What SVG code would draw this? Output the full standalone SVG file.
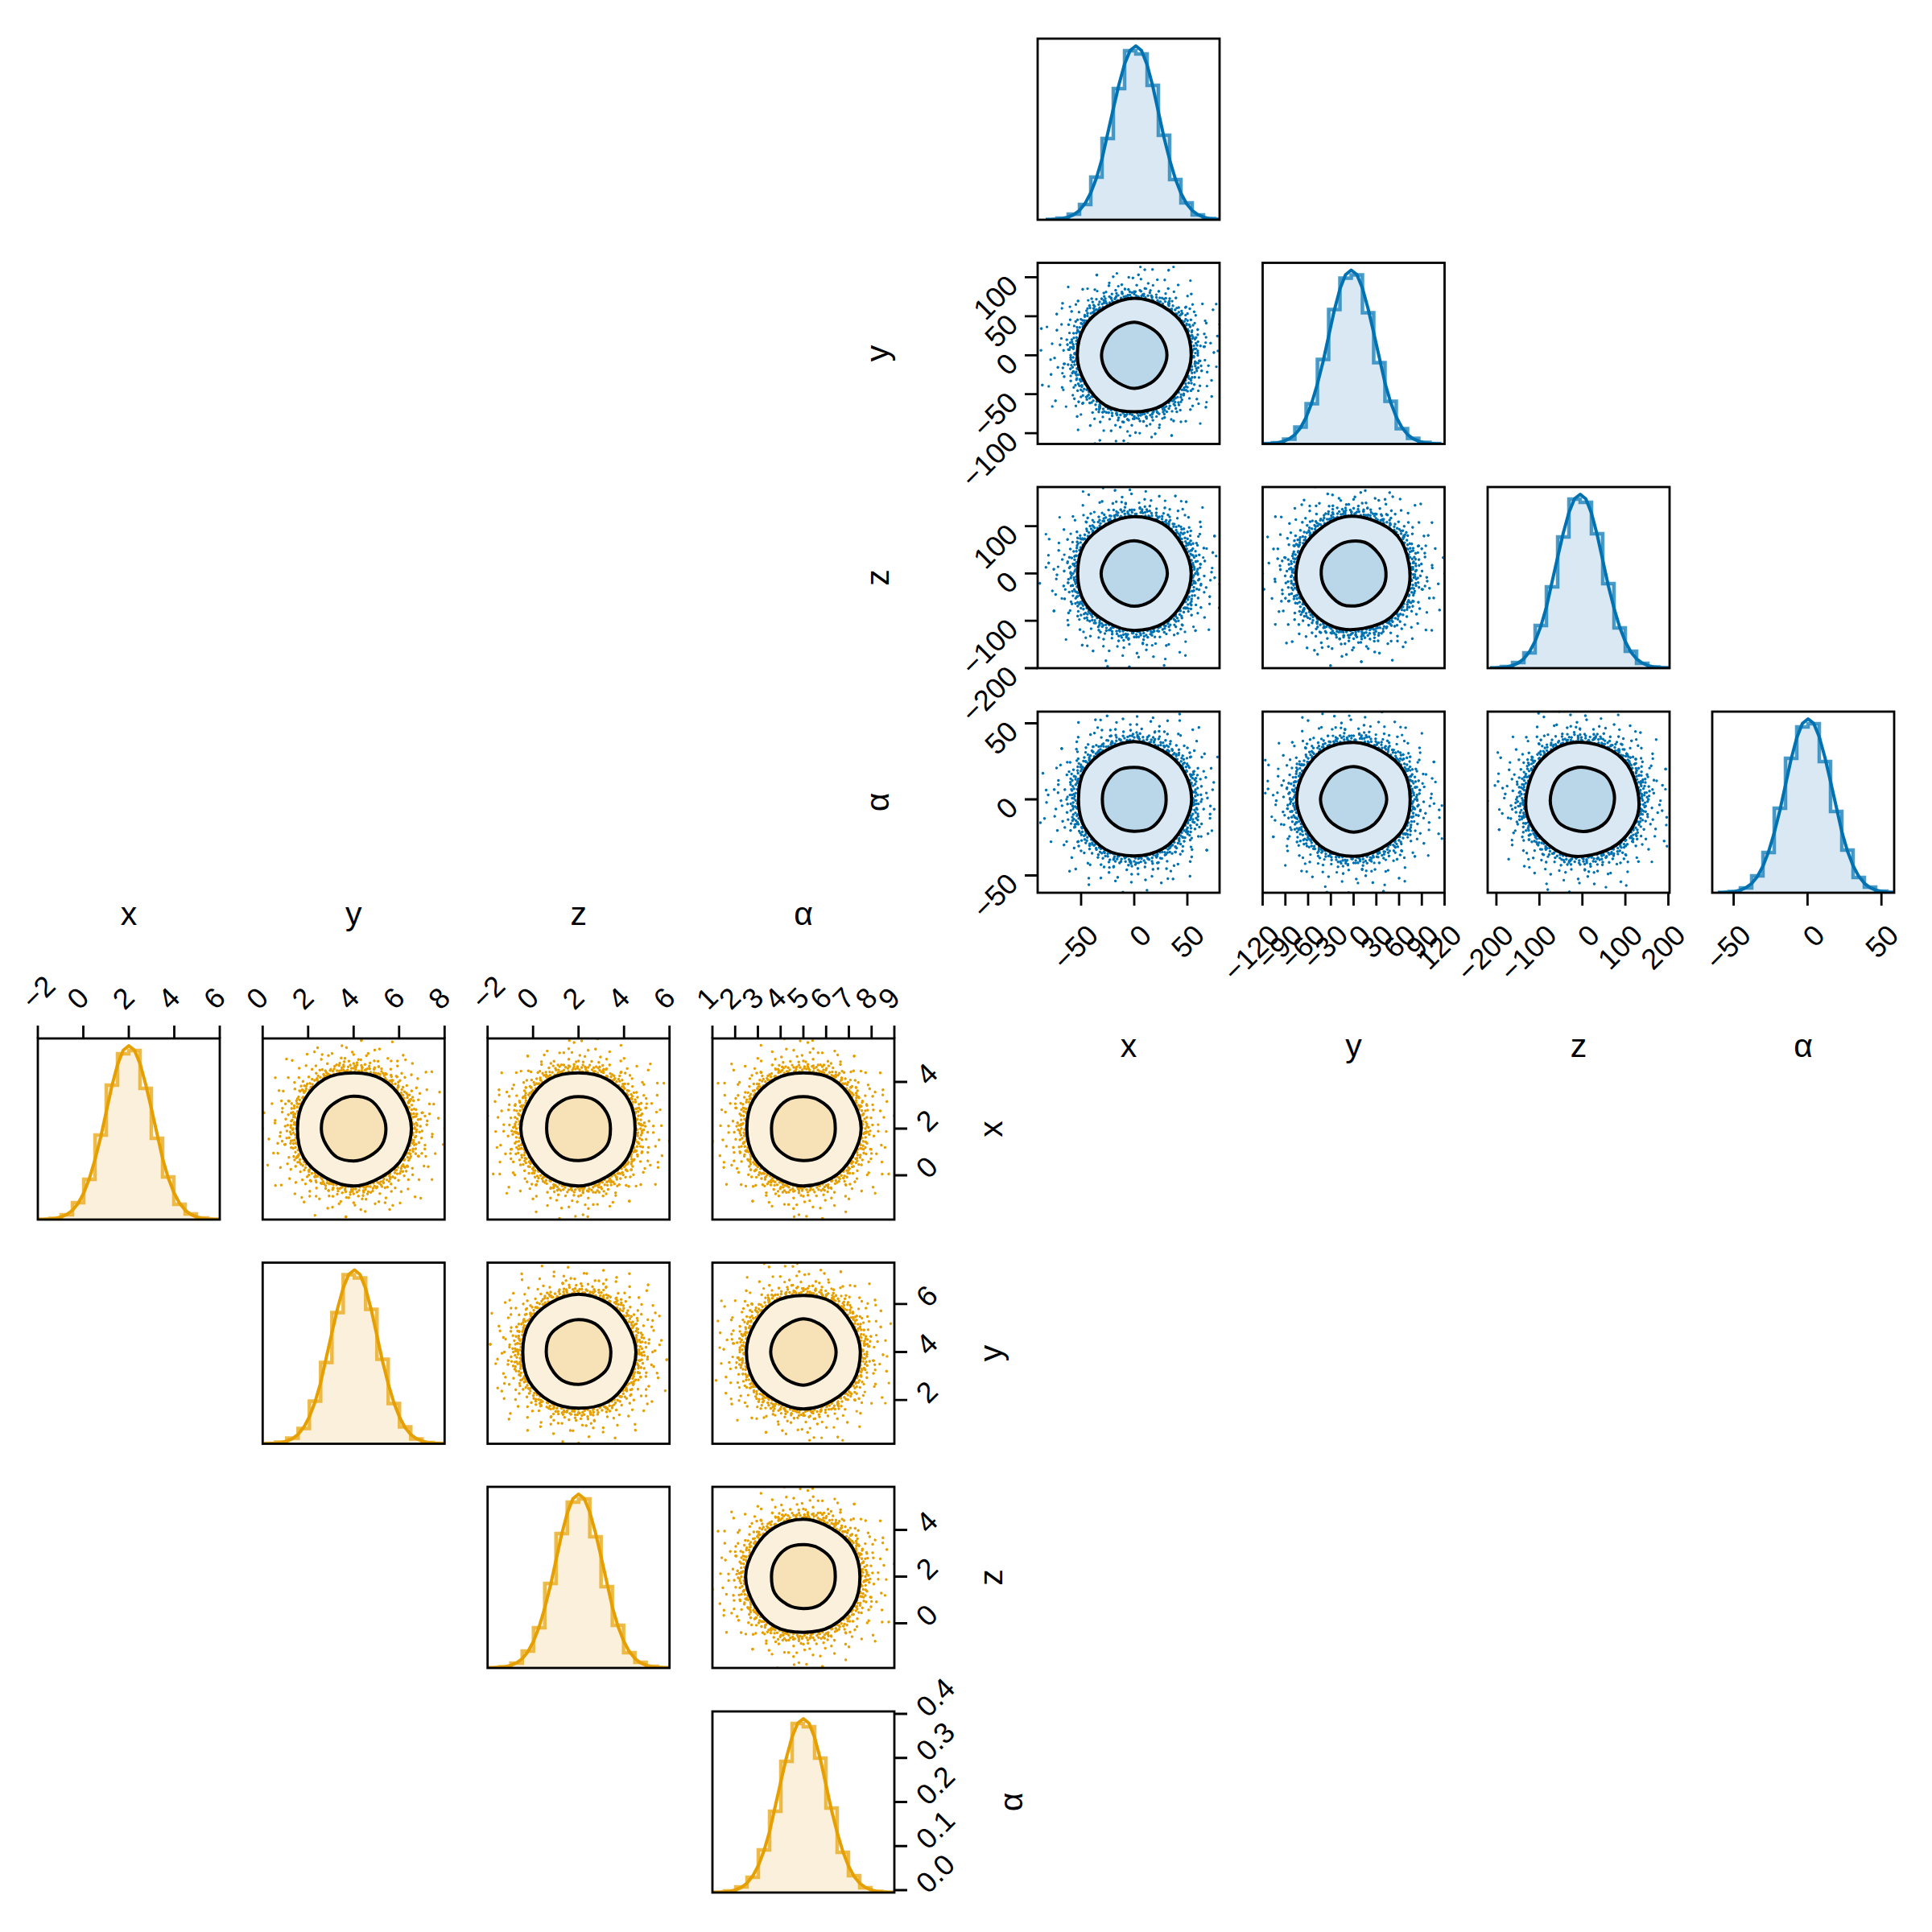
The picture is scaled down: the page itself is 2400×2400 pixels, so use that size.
<svg xmlns="http://www.w3.org/2000/svg" xmlns:xlink="http://www.w3.org/1999/xlink" width="2400" height="2400" viewBox="0 0 2400 2400">
<style>
.frame{fill:none;stroke:#000;stroke-width:2.8}
.tk{fill:none;stroke:#000;stroke-width:2.8}
.tl{font-family:"Liberation Sans",Arial,sans-serif;font-size:36px;fill:#000}
.al{font-family:"Liberation Sans",Arial,sans-serif;font-size:41px;fill:#000;text-anchor:middle}
.e{text-anchor:end}
.bd{stroke:#0072B2}
.yd{stroke:#E69F00}
.cl{stroke:#000;stroke-width:4;stroke-linejoin:round}
.bf1{fill:#D9E8F2}
.bf2{fill:#B9D7E8}
.yf1{fill:#FBF0DB}
.yf2{fill:#F7E1B6}
.bh{fill:#D9E8F2}
.yh{fill:#FBF0DB}
.bstep{fill:none;stroke:#0072B2;stroke-opacity:.7;stroke-width:4.5}
.ystep{fill:none;stroke:#E69F00;stroke-opacity:.7;stroke-width:4.5}
.bkde{fill:none;stroke:#0072B2;stroke-width:4;stroke-linejoin:round}
.ykde{fill:none;stroke:#E69F00;stroke-width:4;stroke-linejoin:round}
</style>
<defs>
<clipPath id="pc"><rect width="226" height="225"/></clipPath>
<path id="qa" fill="none" stroke-width="3.4" stroke-linecap="round" d="M72 2.5h.01M87.8 6.1h.01M75.6 8h.01M102 14.3h.01M70.1 11.1h.01M79.5 15.5h.01M90.6 20.9h.01M71.8 17.9h.01M75 21.5h.01M108.4 35.2h.01M80.4 27.7h.01M67.2 25.8h.01M90.3 38.3h.01M70.4 31.3h.01M74.6 36.4h.01M61.8 32.8h.01M79.6 44.1h.01M64.3 38.6h.01M89.8 58.3h.01M66.3 44.7h.01M59.1 42.9h.01M68.6 53.6h.01M58.2 48.9h.01M72.5 63h.01M51.9 48.4h.01M58 58h.01M82 84.8h.01M49.5 55h.01M57.2 68.2h.01M49.1 60.6h.01M43.3 57.5h.01M58 82.7h.01M47 69.6h.01M39.8 63.6h.01M46 79.7h.01M34 61.3h.01M35.9 70.4h.01M46.5 99.7h.01M35 78.6h.01M27.4 67.7h.01M27.7 76.1h.01M31 89.9h.01M20.7 67.9h.01M19.9 74.4h.01M19.8 85.7h.01M21.6 101.7h.01M12.9 72.9h.01M11.5 82.2h.01M7.6 71.6h.01M6.8 96.8h.01M2.7 77.9h.01M1.2 70h.01M79.4 9.8h.01M67.7 34.5h.01M53.9 52.1h.01M35.6 67.1h.01M15.3 78.6h.01M79.9 60.2h.01M68.5 14.6h.01M38.7 59.6h.01"/>
<path id="qb" fill="none" stroke-width="3.4" stroke-linecap="round" d="M79 1.4h.01M69.9 3.7h.01M94.6 8.3h.01M73.5 9h.01M82.7 14.6h.01M106.6 22.7h.01M68.9 17.2h.01M86.9 23.3h.01M72.7 22.2h.01M75.2 27.4h.01M64.9 26.2h.01M93.6 37.9h.01M66.1 30.9h.01M76.6 39h.01M66.7 38.5h.01M78.9 49.3h.01M59.6 38.7h.01M67.2 47.1h.01M92.7 69.8h.01M57.5 46.5h.01M58.7 52.9h.01M73.6 66.2h.01M50.3 48.7h.01M60 64.3h.01M49.2 56.6h.01M49.9 63.8h.01M63.8 84.7h.01M42.3 58.2h.01M49.6 76.3h.01M39.1 65.1h.01M35.5 61.5h.01M39.9 75.1h.01M32.4 66.5h.01M42.9 88.1h.01M30.5 71.8h.01M25.1 65.4h.01M38.6 106.2h.01M25.6 78.9h.01M20.7 72.1h.01M22.3 89.2h.01M14.8 69.4h.01M12.3 78.1h.01M10.6 86.4h.01M6.4 72.7h.01M5.4 103.9h.01M2.7 75.9h.01M76.1 12h.01M68.5 22.2h.01M69.8 37.1h.01M57.4 41.7h.01M53.5 55.4h.01M44.8 63.9h.01M29.3 65.8h.01M15.7 88.7h.01M109.7 48.8h.01M63.6 101.8h.01M109.7 7.7h.01M65.4 42.5h.01M63 72.5h.01M18.1 67.6h.01"/>
<path id="qc" fill="none" stroke-width="3.4" stroke-linecap="round" d="M73.9 3.9h.01M78.6 8.3h.01M72.1 11.4h.01M81.2 17.3h.01M72.5 19.4h.01M74.2 24.1h.01M67.7 24.6h.01M74.6 31.7h.01M66.5 32.4h.01M67.4 37.3h.01M71.2 44.5h.01M60.5 40.8h.01M63.1 47.5h.01M57.5 48.2h.01M60 55.9h.01M50.9 50.9h.01M51.5 57.2h.01M46.6 57.5h.01M47 64.7h.01M39.8 61.2h.01M40.2 66.9h.01M39 73.3h.01M32.9 67.4h.01M28.1 66.3h.01M27 74.2h.01M22.9 70.4h.01M21 78.2h.01M15.8 74.3h.01M11.4 72.1h.01M8.4 79.6h.01M3.9 74.9h.01M77 1.3h.01M75.2 18.8h.01M71.7 36.5h.01M58.9 51.2h.01M46 61.1h.01M32.1 72.2h.01M16 82.5h.01M62.1 37.3h.01M34.7 62.5h.01"/>
<g id="cloud">
<use href="#qa"/>
<use href="#qb" transform="rotate(90)"/>
<use href="#qa" transform="rotate(180)"/>
<use href="#qb" transform="rotate(270)"/>
<use href="#qb" transform="rotate(40) scale(1,-1)"/>
<use href="#qa" transform="rotate(130) scale(1,-1)"/>
<use href="#qb" transform="rotate(220) scale(1,-1)"/>
<use href="#qa" transform="rotate(310) scale(1,-1)"/>
<use href="#qc" transform="rotate(20)"/>
<use href="#qc" transform="rotate(110)"/>
<use href="#qc" transform="rotate(200)"/>
<use href="#qc" transform="rotate(290)"/>
</g>
<path id="co" d="M70.75,0 C70.75,12.42 66.06,24.1 59.98,34.63 C53.9,45.15 46.46,55.47 35.63,61.73 C24.8,67.98 12.33,70.25 0,70.25 C-12.33,70.25 -24.98,68.42 -35.88,62.13 C-46.78,55.83 -54.3,45.48 -60.43,34.88 C-66.55,24.28 -70.75,12.42 -70.75,0 C-70.75,-12.42 -67.98,-24.8 -61.73,-35.63 C-55.47,-46.46 -45.15,-53.9 -34.63,-59.98 C-24.1,-66.06 -12.42,-70.75 0,-70.75 C12.42,-70.75 24.45,-67 35.13,-60.83 C45.8,-54.66 55.83,-46.78 62.13,-35.88 C68.43,-24.98 70.75,-12.42 70.75,0Z"/>
<path id="ci" d="M40.63,0 C40.63,7.13 37.79,13.8 34.32,19.82 C30.84,25.84 26.17,31.23 20.07,34.75 C13.97,38.27 7.22,41.13 0,41.13 C-7.22,41.13 -13.8,37.79 -19.82,34.32 C-25.84,30.84 -31.23,26.17 -34.75,20.07 C-38.27,13.97 -40.63,7.13 -40.63,0 C-40.63,-7.13 -37.79,-13.8 -34.32,-19.82 C-30.84,-25.84 -26.17,-31.23 -20.07,-34.75 C-13.97,-38.27 -7.22,-41.13 0,-41.13 C7.22,-41.13 13.8,-37.79 19.82,-34.32 C25.84,-30.84 31.23,-26.17 34.75,-20.07 C38.27,-13.97 40.63,-7.13 40.63,0Z"/>
<path id="hfill" d="M1 224.5H15V223H29V218H43V206H57V172H71V124H85V62H99V15H113V19H127V58H141V120H155V175H169V204H183V219H197V223.5H211V224.5H225V225H1Z"/>
<path id="hstep" d="M1 224.5H15V223H29V218H43V206H57V172H71V124H85V62H99V15H113V19H127V58H141V120H155V175H169V204H183V219H197V223.5H211V224.5H225"/>
<polyline id="hkde" points="1,224.9 8,224.7 15,224.3 22,223.4 29,221.7 36,218.6 43,213.3 50,204.6 57,191.5 64,173.2 71,149.3 78,118 85,87 92,57 99,31.5 106,14.5 113,9 120,14.8 127,32.5 134,59 141,91 148,123 155,150.5 162,174 169,192 176,205 183,213.5 190,218.7 197,221.7 204,223.4 211,224.3 218,224.7 225,224.9"/>
<g id="bsc"><use href="#cloud" class="bd"/><use href="#co" class="bf1 cl"/><use href="#ci" class="bf2 cl"/></g>
<g id="ysc"><use href="#cloud" class="yd"/><use href="#co" class="yf1 cl"/><use href="#ci" class="yf2 cl"/></g>
<g id="bhist"><use href="#hfill" class="bh"/><use href="#hstep" class="bstep"/><use href="#hkde" class="bkde"/></g>
<g id="yhist"><use href="#hfill" class="yh"/><use href="#hstep" class="ystep"/><use href="#hkde" class="ykde"/></g>
</defs>
<rect width="2400" height="2400" fill="#fff"/>

<!-- ===== Blue corner plot ===== -->
<g id="blue-hist-x" transform="translate(1289,48)">
<g clip-path="url(#pc)"><use href="#bhist" transform="translate(9,0)"/></g>
<rect class="frame" width="226" height="225"/>
</g>

<g id="blue-x-y" transform="translate(1289,326.5)">
<g clip-path="url(#pc)"><use href="#bsc" transform="translate(120,114.8)"/></g>
<rect class="frame" width="226" height="225"/>
<path class="tk" d="M-16 17.8H0M-16 66.3H0M-16 114.8H0M-16 163.2H0M-16 211.6H0"/>
<text class="tl e" transform="translate(-22.3,30.5) rotate(-45)">100</text>
<text class="tl e" transform="translate(-22.3,79) rotate(-45)">50</text>
<text class="tl e" transform="translate(-22.3,127.5) rotate(-45)">0</text>
<text class="tl e" transform="translate(-22.3,175.9) rotate(-45)">−50</text>
<text class="tl e" transform="translate(-22.3,224.3) rotate(-45)">−100</text>
</g>

<g id="blue-hist-y" transform="translate(1568.5,326.5)">
<g clip-path="url(#pc)"><use href="#bhist" transform="translate(223,0) scale(-1,1)"/></g>
<rect class="frame" width="226" height="225"/>
</g>

<g id="blue-x-z" transform="translate(1289,605)">
<g clip-path="url(#pc)"><use href="#bsc" transform="translate(120,107.4) rotate(90)"/></g>
<rect class="frame" width="226" height="225"/>
<path class="tk" d="M-16 48.6H0M-16 107.4H0M-16 166.2H0M-16 225H0"/>
<text class="tl e" transform="translate(-22.3,61.3) rotate(-45)">100</text>
<text class="tl e" transform="translate(-22.3,120.1) rotate(-45)">0</text>
<text class="tl e" transform="translate(-22.3,178.9) rotate(-45)">−100</text>
<text class="tl e" transform="translate(-22.3,237.7) rotate(-45)">−200</text>
</g>

<g id="blue-y-z" transform="translate(1568.5,605)">
<g clip-path="url(#pc)"><use href="#bsc" transform="translate(113,107.4) rotate(200)"/></g>
<rect class="frame" width="226" height="225"/>
</g>

<g id="blue-hist-z" transform="translate(1848,605)">
<g clip-path="url(#pc)"><use href="#bhist" transform="translate(2,0)"/></g>
<rect class="frame" width="226" height="225"/>
</g>

<g id="blue-x-alpha" transform="translate(1289,884)">
<g clip-path="url(#pc)"><use href="#bsc" transform="translate(120,109) rotate(150)"/></g>
<rect class="frame" width="226" height="225"/>
<path class="tk" d="M-16 14.5H0M-16 109H0M-16 203.5H0M54 225V241M120 225V241M186 225V241"/>
<text class="tl e" transform="translate(-22.3,27.2) rotate(-45)">50</text>
<text class="tl e" transform="translate(-22.3,121.7) rotate(-45)">0</text>
<text class="tl e" transform="translate(-22.3,216.2) rotate(-45)">−50</text>
<text class="tl e" transform="translate(77.5,280) rotate(-45)">−50</text>
<text class="tl e" transform="translate(143.5,280) rotate(-45)">0</text>
<text class="tl e" transform="translate(209.5,280) rotate(-45)">50</text>
</g>

<g id="blue-y-alpha" transform="translate(1568.5,884)">
<g clip-path="url(#pc)"><use href="#bsc" transform="translate(113,109) rotate(270)"/></g>
<rect class="frame" width="226" height="225"/>
<path class="tk" d="M0 225V241M28.25 225V241M56.5 225V241M84.75 225V241M113 225V241M141.25 225V241M169.5 225V241M197.75 225V241M226 225V241"/>
<text class="tl e" transform="translate(23.5,280) rotate(-45)">−120</text>
<text class="tl e" transform="translate(51.75,280) rotate(-45)">−90</text>
<text class="tl e" transform="translate(80,280) rotate(-45)">−60</text>
<text class="tl e" transform="translate(108.25,280) rotate(-45)">−30</text>
<text class="tl e" transform="translate(136.5,280) rotate(-45)">0</text>
<text class="tl e" transform="translate(164.75,280) rotate(-45)">30</text>
<text class="tl e" transform="translate(193,280) rotate(-45)">60</text>
<text class="tl e" transform="translate(221.25,280) rotate(-45)">90</text>
<text class="tl e" transform="translate(249.5,280) rotate(-45)">120</text>
</g>

<g id="blue-z-alpha" transform="translate(1848,884)">
<g clip-path="url(#pc)"><use href="#bsc" transform="translate(117.7,109) rotate(45) scale(-1,1)"/></g>
<rect class="frame" width="226" height="225"/>
<path class="tk" d="M10.9 225V241M64.3 225V241M117.7 225V241M171.1 225V241M224.5 225V241"/>
<text class="tl e" transform="translate(34.4,280) rotate(-45)">−200</text>
<text class="tl e" transform="translate(87.8,280) rotate(-45)">−100</text>
<text class="tl e" transform="translate(141.2,280) rotate(-45)">0</text>
<text class="tl e" transform="translate(194.6,280) rotate(-45)">100</text>
<text class="tl e" transform="translate(248,280) rotate(-45)">200</text>
</g>

<g id="blue-hist-alpha" transform="translate(2127,884)">
<g clip-path="url(#pc)"><use href="#bhist" transform="translate(232,0) scale(-1,1)"/></g>
<rect class="frame" width="226" height="225"/>
<path class="tk" d="M26.6 225V241M118.4 225V241M210.2 225V241"/>
<text class="tl e" transform="translate(50.1,280) rotate(-45)">−50</text>
<text class="tl e" transform="translate(141.9,280) rotate(-45)">0</text>
<text class="tl e" transform="translate(233.7,280) rotate(-45)">50</text>
</g>

<g id="blue-axis-labels">
<text class="al" x="1402" y="1313">x</text>
<text class="al" x="1681.5" y="1313">y</text>
<text class="al" x="1961" y="1313">z</text>
<text class="al" x="2240" y="1313">α</text>
<text class="al" transform="translate(1104,439) rotate(-90)">y</text>
<text class="al" transform="translate(1104,717.5) rotate(-90)">z</text>
<text class="al" transform="translate(1104,996.5) rotate(-90)">α</text>
</g>

<!-- ===== Yellow corner plot ===== -->
<g id="yellow-hist-x" transform="translate(47,1290)">
<g clip-path="url(#pc)"><use href="#yhist" transform="translate(226,0) scale(-1,1)"/></g>
<rect class="frame" width="226" height="225"/>
<path class="tk" d="M0 0V-16M56.5 0V-16M113 0V-16M169.5 0V-16M226 0V-16"/>
<text class="tl" transform="translate(-5,-34) rotate(-45)">−2</text>
<text class="tl" transform="translate(51.5,-34) rotate(-45)">0</text>
<text class="tl" transform="translate(108,-34) rotate(-45)">2</text>
<text class="tl" transform="translate(164.5,-34) rotate(-45)">4</text>
<text class="tl" transform="translate(221,-34) rotate(-45)">6</text>
</g>

<g id="yellow-y-x" transform="translate(326.3,1290)">
<g clip-path="url(#pc)"><use href="#ysc" transform="translate(113,112) rotate(30)"/></g>
<rect class="frame" width="226" height="225"/>
<path class="tk" d="M0 0V-16M56.5 0V-16M113 0V-16M169.5 0V-16M226 0V-16"/>
<text class="tl" transform="translate(-5,-34) rotate(-45)">0</text>
<text class="tl" transform="translate(51.5,-34) rotate(-45)">2</text>
<text class="tl" transform="translate(108,-34) rotate(-45)">4</text>
<text class="tl" transform="translate(164.5,-34) rotate(-45)">6</text>
<text class="tl" transform="translate(221,-34) rotate(-45)">8</text>
</g>

<g id="yellow-z-x" transform="translate(605.7,1290)">
<g clip-path="url(#pc)"><use href="#ysc" transform="translate(113,112) rotate(120) scale(-1,1)"/></g>
<rect class="frame" width="226" height="225"/>
<path class="tk" d="M0 0V-16M56.5 0V-16M113 0V-16M169.5 0V-16M226 0V-16"/>
<text class="tl" transform="translate(-5,-34) rotate(-45)">−2</text>
<text class="tl" transform="translate(51.5,-34) rotate(-45)">0</text>
<text class="tl" transform="translate(108,-34) rotate(-45)">2</text>
<text class="tl" transform="translate(164.5,-34) rotate(-45)">4</text>
<text class="tl" transform="translate(221,-34) rotate(-45)">6</text>
</g>

<g id="yellow-alpha-x" transform="translate(885,1290)">
<g clip-path="url(#pc)"><use href="#ysc" transform="translate(113,112) rotate(240)"/></g>
<rect class="frame" width="226" height="225"/>
<path class="tk" d="M0 0V-16M28.25 0V-16M56.5 0V-16M84.75 0V-16M113 0V-16M141.25 0V-16M169.5 0V-16M197.75 0V-16M226 0V-16M226 54H242M226 112H242M226 170H242"/>
<text class="tl" transform="translate(-5,-34) rotate(-45)">1</text>
<text class="tl" transform="translate(23.25,-34) rotate(-45)">2</text>
<text class="tl" transform="translate(51.5,-34) rotate(-45)">3</text>
<text class="tl" transform="translate(79.75,-34) rotate(-45)">4</text>
<text class="tl" transform="translate(108,-34) rotate(-45)">5</text>
<text class="tl" transform="translate(136.25,-34) rotate(-45)">6</text>
<text class="tl" transform="translate(164.5,-34) rotate(-45)">7</text>
<text class="tl" transform="translate(192.75,-34) rotate(-45)">8</text>
<text class="tl" transform="translate(221,-34) rotate(-45)">9</text>
<text class="tl" transform="translate(268,60) rotate(-45)">4</text>
<text class="tl" transform="translate(268,118) rotate(-45)">2</text>
<text class="tl" transform="translate(268,176) rotate(-45)">0</text>
</g>

<g id="yellow-hist-y" transform="translate(326.3,1568.5)">
<g clip-path="url(#pc)"><use href="#yhist" transform="translate(1,0)"/></g>
<rect class="frame" width="226" height="225"/>
</g>

<g id="yellow-z-y" transform="translate(605.7,1568.5)">
<g clip-path="url(#pc)"><use href="#ysc" transform="translate(113,111) rotate(300)"/></g>
<rect class="frame" width="226" height="225"/>
</g>

<g id="yellow-alpha-y" transform="translate(885,1568.5)">
<g clip-path="url(#pc)"><use href="#ysc" transform="translate(113,111) rotate(180) scale(-1,1)"/></g>
<rect class="frame" width="226" height="225"/>
<path class="tk" d="M226 51.4H242M226 111H242M226 170.6H242"/>
<text class="tl" transform="translate(268,57.4) rotate(-45)">6</text>
<text class="tl" transform="translate(268,117) rotate(-45)">4</text>
<text class="tl" transform="translate(268,176.6) rotate(-45)">2</text>
</g>

<g id="yellow-hist-z" transform="translate(605.7,1847)">
<g clip-path="url(#pc)"><use href="#yhist" transform="translate(226,0) scale(-1,1)"/></g>
<rect class="frame" width="226" height="225"/>
</g>

<g id="yellow-alpha-z" transform="translate(885,1847)">
<g clip-path="url(#pc)"><use href="#ysc" transform="translate(113,111.5) rotate(60)"/></g>
<rect class="frame" width="226" height="225"/>
<path class="tk" d="M226 53.5H242M226 111.5H242M226 169.5H242"/>
<text class="tl" transform="translate(268,59.5) rotate(-45)">4</text>
<text class="tl" transform="translate(268,117.5) rotate(-45)">2</text>
<text class="tl" transform="translate(268,175.5) rotate(-45)">0</text>
</g>

<g id="yellow-hist-alpha" transform="translate(885,2126)">
<g clip-path="url(#pc)"><use href="#yhist"/></g>
<rect class="frame" width="226" height="225"/>
<path class="tk" d="M226 3H242M226 57.75H242M226 112.5H242M226 167.25H242M226 222H242"/>
<text class="tl" transform="translate(268,9) rotate(-45)">0.4</text>
<text class="tl" transform="translate(268,63.75) rotate(-45)">0.3</text>
<text class="tl" transform="translate(268,118.5) rotate(-45)">0.2</text>
<text class="tl" transform="translate(268,173.25) rotate(-45)">0.1</text>
<text class="tl" transform="translate(268,228) rotate(-45)">0.0</text>
</g>

<g id="yellow-axis-labels">
<text class="al" x="160" y="1149">x</text>
<text class="al" x="439.3" y="1149">y</text>
<text class="al" x="718.7" y="1149">z</text>
<text class="al" x="998" y="1149">α</text>
<text class="al" transform="translate(1245,1402.5) rotate(-90)">x</text>
<text class="al" transform="translate(1245,1681) rotate(-90)">y</text>
<text class="al" transform="translate(1245,1959.5) rotate(-90)">z</text>
<text class="al" transform="translate(1270,2238.5) rotate(-90)">α</text>
</g>
</svg>
